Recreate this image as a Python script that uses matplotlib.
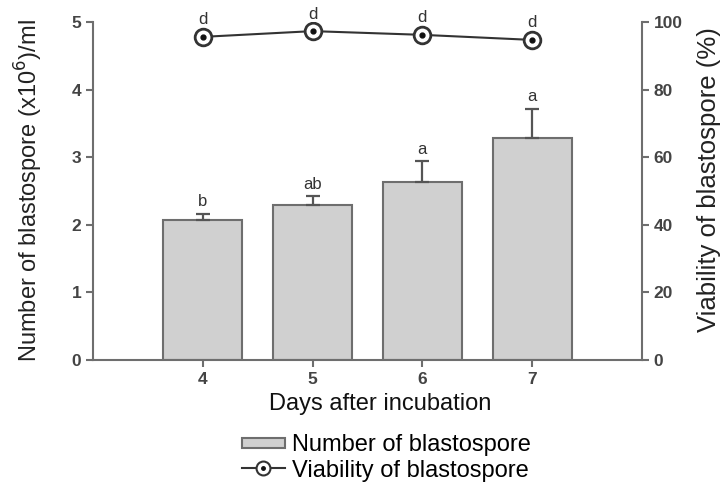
import matplotlib
matplotlib.use("Agg")
import matplotlib.pyplot as plt
from matplotlib.lines import Line2D
from matplotlib.patches import Rectangle
from matplotlib.legend_handler import HandlerTuple, HandlerPatch

plt.rcParams['font.family'] = ['Liberation Sans', 'DejaVu Sans']

days = [4, 5, 6, 7]
day_labels = ['4', '5', '6', '7']
blastospore = [2.07, 2.30, 2.64, 3.28]
blastospore_err = [0.09, 0.12, 0.30, 0.44]
blastospore_letters = ['b', 'ab', 'a', 'a']
viability = [95.6, 97.3, 96.2, 94.7]
viability_letters = ['d', 'd', 'd', 'd']

W, H = 724, 493
fig = plt.figure(figsize=(W / 100, H / 100), dpi=100)
ax = fig.add_axes([93 / W, (H - 360) / H, (642 - 93) / W, (360 - 22) / H])

gray = '#6e6e6e'
tickcol = '#444444'
fs_lab = 17
fs_tick = 12.5

ax.bar(days, blastospore, width=0.72, color='#d0d0d0', edgecolor=gray, linewidth=1.5, zorder=2)
ax.errorbar(days, blastospore, yerr=[[0] * 4, blastospore_err], fmt='none', ecolor='#555555',
            elinewidth=1.6, capsize=5, capthick=1.6, zorder=3)
for x, v, e, t in zip(days, blastospore, blastospore_err, blastospore_letters):
    ax.text(x, v + e + 0.07, t, ha='center', va='bottom', fontsize=12, color='#333333')

ax.set_xlim(3, 8)
ax.set_ylim(0, 5)
ax.set_xticks(days)
ax.set_xticklabels(day_labels)
ax.set_yticks([0, 1, 2, 3, 4, 5])
for s in ['top', 'right']:
    ax.spines[s].set_visible(False)
for s in ['left', 'bottom']:
    ax.spines[s].set_color(gray)
    ax.spines[s].set_linewidth(1.5)
ax.tick_params(axis='both', colors=gray, labelcolor=tickcol, labelsize=fs_tick, width=1.5, length=5)
for lab in ax.get_xticklabels() + ax.get_yticklabels():
    lab.set_fontweight('bold')
ax.set_ylabel('Number of blastospore (x10$^{6}$)/ml', fontsize=fs_lab, color='#222222', labelpad=19)
ax.set_xlabel('Days after incubation', fontsize=fs_lab, color='#111111')
ax.xaxis.set_label_coords(0.524, -0.098)

ax2 = ax.twinx()
ax2.set_ylim(0, 100)
ax2.set_yticks([0, 20, 40, 60, 80, 100])
for s in ['top', 'left', 'bottom']:
    ax2.spines[s].set_visible(False)
ax2.spines['right'].set_color(gray)
ax2.spines['right'].set_linewidth(1.5)
ax2.tick_params(axis='y', colors=gray, labelcolor=tickcol, labelsize=fs_tick, width=1.5, length=5)
for lab in ax2.get_yticklabels():
    lab.set_fontweight('bold')
ax2.set_ylabel('Viability of blastospore (%)', fontsize=18.5, color='#222222')
ax2.yaxis.set_label_coords(1.101, 0.535)

ax2.plot(days, viability, color='#333333', linewidth=1.5, marker='o', markersize=12,
         markerfacecolor='white', markeredgecolor='#333333', markeredgewidth=2, zorder=4)
ax2.plot(days, viability, linestyle='none', marker='o', markersize=3.5,
         color='#111111', zorder=5)
for x, v, t in zip(days, viability, viability_letters):
    ax2.text(x, v + 2.8, t, ha='center', va='bottom', fontsize=12, color='#333333')


def flat_patch(legend, orig_handle, xdescent, ydescent, width, height, fontsize):
    return Rectangle((-xdescent, -ydescent + height * 0.2), width, height * 0.6)


h_bar = Rectangle((0, 0), 1, 1, facecolor='#d0d0d0', edgecolor=gray, linewidth=1.5)
h_line = Line2D([], [], color='#333333', linewidth=1.5, marker='o', markersize=10,
                markerfacecolor='white', markeredgecolor='#333333', markeredgewidth=1.5)
h_dot = Line2D([], [], linestyle='none', marker='o', markersize=2.5, color='#111111')
fig.legend([h_bar, (h_line, h_dot)], ['Number of blastospore', 'Viability of blastospore'],
           loc='upper left', bbox_to_anchor=(242 / W, 1 - 434 / H), frameon=False,
           fontsize=fs_lab, handlelength=1.8, handletextpad=0.3, labelspacing=0.15,
           borderpad=0, borderaxespad=0, handleheight=0.7,
           handler_map={tuple: HandlerTuple(ndivide=1),
                        Rectangle: HandlerPatch(patch_func=flat_patch)})

fig.savefig('out.png', dpi=100)
